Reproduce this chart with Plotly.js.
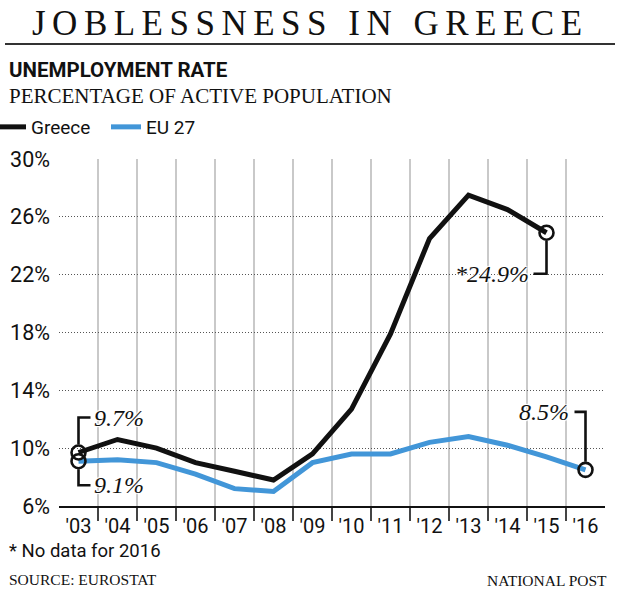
<!DOCTYPE html>
<html><head><meta charset="utf-8">
<script src="https://cdn.plot.ly/plotly-3.0.1.min.js"></script>
<style>
html,body{margin:0;padding:0;background:#fff}
#chart{width:620px;height:592px}
.gtitle{letter-spacing:6.5px}
</style></head><body><div id="chart"></div>
<script>
// ---- data ----
const years = [2003,2004,2005,2006,2007,2008,2009,2010,2011,2012,2013,2014,2015,2016];
const yearLabels = ["'03","'04","'05","'06","'07","'08","'09","'10","'11","'12","'13","'14","'15","'16"];
const greeceYears = [2003,2004,2005,2006,2007,2008,2009,2010,2011,2012,2013,2014,2015];
const greece = [9.7,10.6,10.0,9.0,8.4,7.8,9.6,12.7,17.9,24.5,27.5,26.5,24.9];
const eu27 = [9.1,9.2,9.0,8.2,7.2,7.0,9.0,9.6,9.6,10.4,10.8,10.2,9.4,8.5];
const yTicks = [6,10,14,18,22,26,30];
const yTickLabels = ["6%","10%","14%","18%","22%","26%","30%"];
const yearBoundaries = [2003.5,2004.5,2005.5,2006.5,2007.5,2008.5,2009.5,2010.5,2011.5,2012.5,2013.5,2014.5,2015.5];

const SANS = "Roboto,'DejaVu Sans Condensed',sans-serif";
const SERIF = "'Liberation Serif','DejaVu Serif',serif";
const BLUE = '#4296d8';
const INK = '#111';

const gLast = greece.length - 1;
const eLast = eu27.length - 1;

const traces = [
  {x: greeceYears, y: greece, name: 'Greece', mode: 'lines',
   line: {color: INK, width: 5}, hoverinfo: 'skip'},
  {x: years, y: eu27, name: 'EU 27', mode: 'lines',
   line: {color: BLUE, width: 5}, hoverinfo: 'skip'},
  {x: [greeceYears[0], years[0], greeceYears[gLast], years[eLast]],
   y: [greece[0], eu27[0], greece[gLast], eu27[eLast]],
   mode: 'markers', showlegend: false, hoverinfo: 'skip',
   marker: {symbol: 'circle-open', size: 14, color: INK, line: {color: INK, width: 2.6}}}
];

const halo = '1px 1px 1px #fff, -1px -1px 1px #fff, 1px -1px 1px #fff, -1px 1px 1px #fff';
const labelFont = {family: SERIF, size: 24, color: INK, style: 'italic', shadow: halo};

function P(px){ return (px - 59) / 546; }
function Q(py){ return (506 - py) / 347; }

const annotations = [
  {text: 'UNEMPLOYMENT RATE', xref: 'paper', yref: 'paper', x: P(7), y: Q(70),
   xanchor: 'left', yanchor: 'middle', showarrow: false,
   font: {family: SANS, size: 20.5, color: INK, weight: 700}},
  {text: 'PERCENTAGE OF ACTIVE POPULATION', xref: 'paper', yref: 'paper', x: P(7), y: Q(96),
   xanchor: 'left', yanchor: 'middle', showarrow: false,
   font: {family: SERIF, size: 21, color: INK}},
  {text: '* No data for 2016', xref: 'paper', yref: 'paper', x: P(7), y: Q(551),
   xanchor: 'left', yanchor: 'middle', showarrow: false,
   font: {family: SANS, size: 18.5, color: INK}},
  {text: 'SOURCE: EUROSTAT', xref: 'paper', yref: 'paper', x: P(7), y: Q(579),
   xanchor: 'left', yanchor: 'middle', showarrow: false,
   font: {family: SERIF, size: 15.5, color: INK}},
  {text: 'NATIONAL POST', xref: 'paper', yref: 'paper', x: P(609), y: Q(580),
   xanchor: 'right', yanchor: 'middle', showarrow: false,
   font: {family: SERIF, size: 15.5, color: INK}},
  // data labels
  {text: greece[0].toFixed(1) + '%', x: greeceYears[0], y: greece[0], xref: 'x', yref: 'y',
   xanchor: 'left', yanchor: 'middle', xshift: 13, yshift: 35, showarrow: false, font: labelFont},
  {text: eu27[0].toFixed(1) + '%', x: years[0], y: eu27[0], xref: 'x', yref: 'y',
   xanchor: 'left', yanchor: 'middle', xshift: 13, yshift: -24, showarrow: false, font: labelFont},
  {text: '*' + greece[gLast].toFixed(1) + '%', x: greeceYears[gLast], y: greece[gLast], xref: 'x', yref: 'y',
   xanchor: 'right', yanchor: 'middle', xshift: -16, yshift: -41, showarrow: false, font: labelFont},
  {text: eu27[eLast].toFixed(1) + '%', x: years[eLast], y: eu27[eLast], xref: 'x', yref: 'y',
   xanchor: 'right', yanchor: 'middle', xshift: -15, yshift: 58, showarrow: false, font: labelFont}
];

const bracket = {type: 'path', xref: 'x', yref: 'y', xsizemode: 'pixel', ysizemode: 'pixel',
  line: {color: INK, width: 2.6}, layer: 'above'};

const shapes = [
  {type: 'line', xref: 'paper', yref: 'paper', x0: P(5), x1: P(615), y0: Q(44), y1: Q(44),
   line: {color: '#333', width: 2}},
  Object.assign({}, bracket, {xanchor: greeceYears[0], yanchor: greece[0], path: 'M0,8 V35 H12'}),
  Object.assign({}, bracket, {xanchor: years[0], yanchor: eu27[0], path: 'M0,-8 V-24 H12'}),
  Object.assign({}, bracket, {xanchor: greeceYears[gLast], yanchor: greece[gLast], path: 'M0,-8 V-41 H-13'}),
  Object.assign({}, bracket, {xanchor: years[eLast], yanchor: eu27[eLast], path: 'M0,8 V58 H-11'})
];

const layout = {
  width: 620, height: 592,
  paper_bgcolor: '#fff', plot_bgcolor: '#fff',
  margin: {l: 59, r: 15, t: 159, b: 86, autoexpand: false},
  title: {text: 'JOBLESSNESS IN GREECE', font: {family: SERIF, size: 35, color: INK},
          xref: 'container', yref: 'container', x: 32/620, xanchor: 'left',
          y: 1 - 23/592, yanchor: 'middle', automargin: false},
  showlegend: true,
  legend: {orientation: 'h', x: P(-9), y: Q(127), xanchor: 'left', yanchor: 'middle',
           font: {family: SANS, size: 19, color: INK}, itemwidth: 30, traceorder: 'normal',
           entrywidth: 70, entrywidthmode: 'pixels',
           bgcolor: 'rgba(0,0,0,0)'},
  xaxis: {range: [2002.5, 2016.5], tickmode: 'array', tickvals: years, ticktext: yearLabels,
          showgrid: false, zeroline: false, showline: true, linecolor: INK, linewidth: 2,
          ticks: '', ticklabelstandoff: 1, fixedrange: true, automargin: false,
          tickfont: {family: SANS, size: 20, color: INK},
          minor: {tickmode: 'array', tickvals: yearBoundaries, showgrid: true, gridcolor: '#c9c9c9',
                  gridwidth: 1.5, ticks: 'outside', ticklen: 13, tickwidth: 1.2, tickcolor: '#444'}},
  yaxis: {range: [6, 30], tickmode: 'array', tickvals: yTicks, ticktext: yTickLabels,
          showgrid: true, gridcolor: '#555', griddash: '1px,2px', gridwidth: 1,
          zeroline: false, showline: false, ticks: '', ticklabelstandoff: 8, fixedrange: true,
          automargin: false,
          tickfont: {family: SANS, size: 21.5, color: INK}},
  annotations: annotations,
  shapes: shapes
};

Plotly.newPlot('chart', traces, layout, {displayModeBar: false, staticPlot: true});
</script>
</body></html>
